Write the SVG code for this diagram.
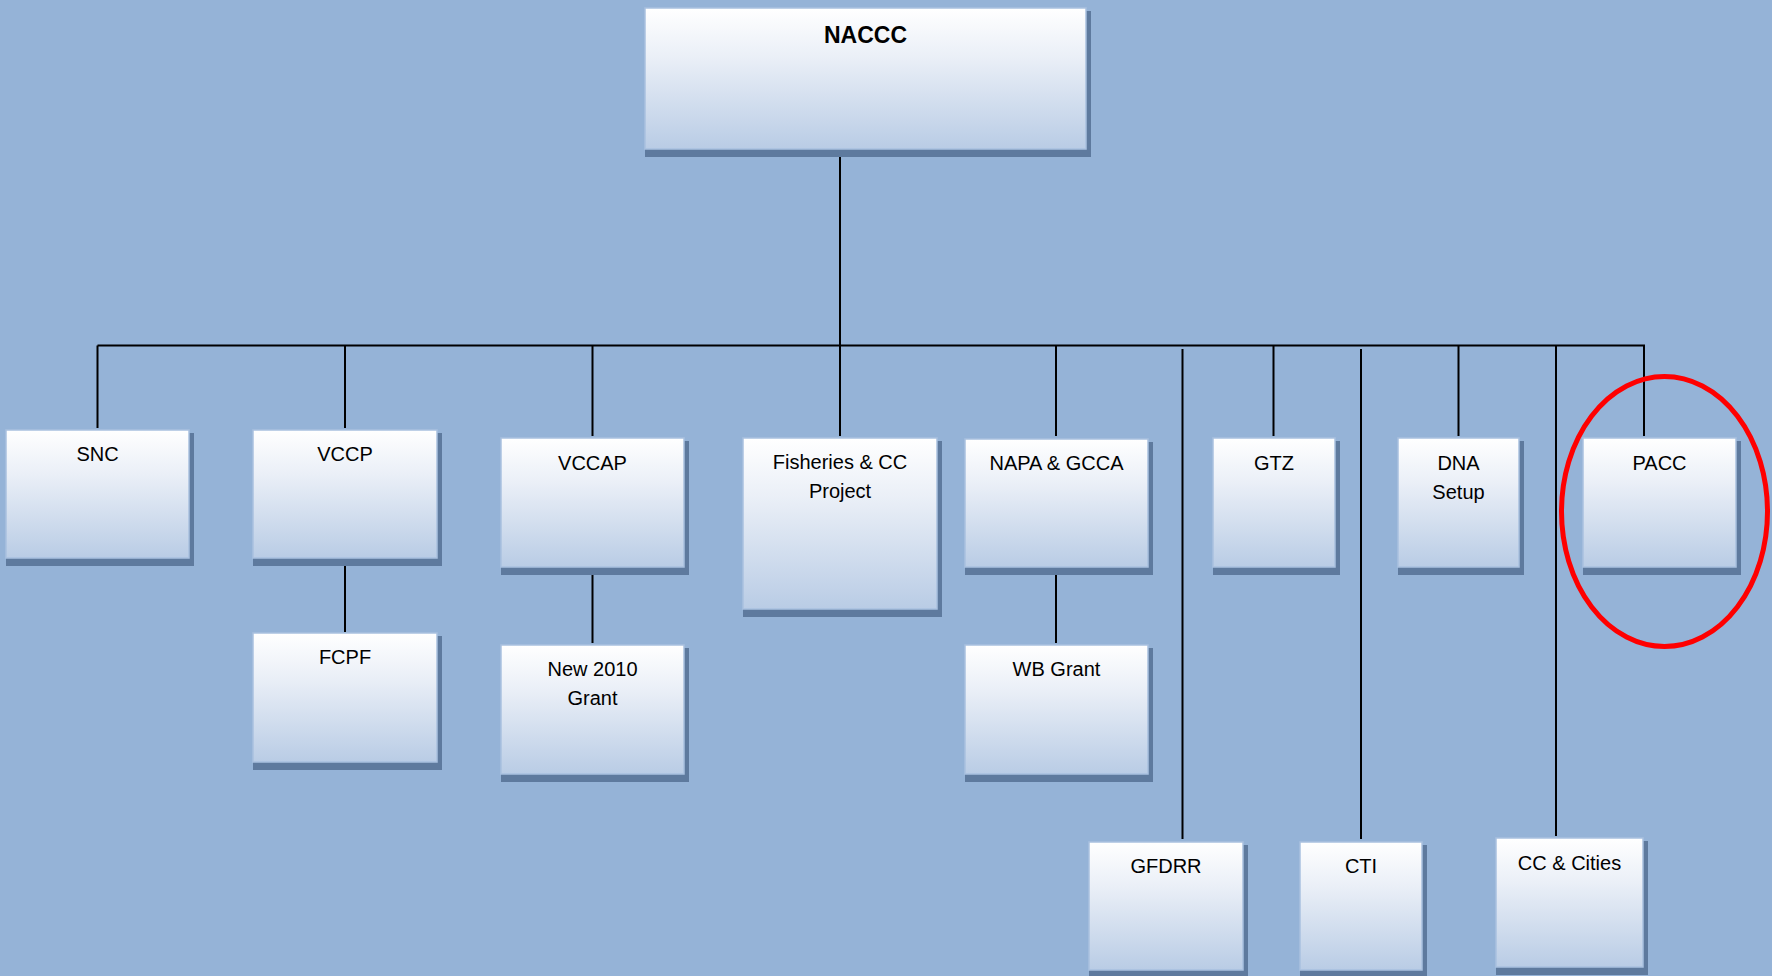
<svg xmlns="http://www.w3.org/2000/svg" width="1772" height="976" viewBox="0 0 1772 976">
<defs>
<linearGradient id="g" x1="0" y1="0" x2="0" y2="1">
<stop offset="0" stop-color="#ffffff"/>
<stop offset="0.35" stop-color="#eaeff7"/>
<stop offset="1" stop-color="#b9cce5"/>
</linearGradient>
</defs>
<style>
.sh{fill:#5e7a9e}
.bx{fill:url(#g);stroke:#a9c1df;stroke-width:1.5}
.t{font-family:"Liberation Sans",Arial,sans-serif;font-size:20px;fill:#000;text-anchor:middle}
.tb{font-family:"Liberation Sans",Arial,sans-serif;font-size:23px;font-weight:bold;fill:#000;text-anchor:middle}
.c{stroke:#000;stroke-width:2;fill:none}
</style>
<rect width="1772" height="976" fill="#95b3d7"/>
<g id="connectors">
<path class="c" d="M840 150V345.5M97.5 345.5H1645M97.5 345.5V428M345 345.5V428M592.5 345.5V436M840 345.5V436M1056 345.5V436M1273.5 345.5V436M1458.5 345.5V436M1644 345.5V436M1556 345.5V836M1182.5 349V839M1361 349V839M345 562V632M592.5 570V643M1056 570V643"/>
</g>
<g id="NACCC"><rect class="sh" x="645" y="11" width="446" height="146"/><rect class="bx" x="645" y="8" width="441" height="141"/><text class="tb" x="865.5" y="43">NACCC</text></g>
<g id="SNC"><rect class="sh" x="6" y="433" width="188" height="133"/><rect class="bx" x="6" y="430" width="183" height="128"/><text class="t" x="97.5" y="461">SNC</text></g>
<g id="VCCP"><rect class="sh" x="253" y="433" width="189" height="133"/><rect class="bx" x="253" y="430" width="184" height="128"/><text class="t" x="345" y="461">VCCP</text></g>
<g id="FCPF"><rect class="sh" x="253" y="636" width="189" height="134"/><rect class="bx" x="253" y="633" width="184" height="129"/><text class="t" x="345" y="664">FCPF</text></g>
<g id="VCCAP"><rect class="sh" x="501" y="441" width="188" height="134"/><rect class="bx" x="501" y="438" width="183" height="129"/><text class="t" x="592.5" y="470">VCCAP</text></g>
<g id="New2010Grant"><rect class="sh" x="501" y="648" width="188" height="134"/><rect class="bx" x="501" y="645" width="183" height="129"/><text class="t" x="592.5" y="676">New 2010</text><text class="t" x="592.5" y="705">Grant</text></g>
<g id="Fisheries"><rect class="sh" x="743" y="441" width="199" height="176"/><rect class="bx" x="743" y="438" width="194" height="171"/><text class="t" x="840" y="469">Fisheries &amp; CC</text><text class="t" x="840" y="498">Project</text></g>
<g id="NAPA"><rect class="sh" x="965" y="442" width="188" height="133"/><rect class="bx" x="965" y="439" width="183" height="128"/><text class="t" x="1056.5" y="470">NAPA &amp; GCCA</text></g>
<g id="WBGrant"><rect class="sh" x="965" y="648" width="188" height="134"/><rect class="bx" x="965" y="645" width="183" height="129"/><text class="t" x="1056.5" y="676">WB Grant</text></g>
<g id="GTZ"><rect class="sh" x="1213" y="441" width="127" height="134"/><rect class="bx" x="1213" y="438" width="122" height="129"/><text class="t" x="1274" y="470">GTZ</text></g>
<g id="DNA"><rect class="sh" x="1398" y="441" width="126" height="134"/><rect class="bx" x="1398" y="438" width="121" height="129"/><text class="t" x="1458.5" y="470">DNA</text><text class="t" x="1458.5" y="499">Setup</text></g>
<g id="PACC"><rect class="sh" x="1583" y="441" width="158" height="134"/><rect class="bx" x="1583" y="438" width="153" height="129"/><text class="t" x="1659.5" y="470">PACC</text></g>
<g id="GFDRR"><rect class="sh" x="1089" y="845" width="159" height="133"/><rect class="bx" x="1089" y="842" width="154" height="128"/><text class="t" x="1166" y="873">GFDRR</text></g>
<g id="CTI"><rect class="sh" x="1300" y="845" width="127" height="133"/><rect class="bx" x="1300" y="842" width="122" height="128"/><text class="t" x="1361" y="873">CTI</text></g>
<g id="CCCities"><rect class="sh" x="1496" y="841" width="152" height="134"/><rect class="bx" x="1496" y="838" width="147" height="129"/><text class="t" x="1569.5" y="870">CC &amp; Cities</text></g>
<ellipse cx="1664.5" cy="511.5" rx="103" ry="135" fill="none" stroke="#ff0000" stroke-width="5"/>
</svg>
